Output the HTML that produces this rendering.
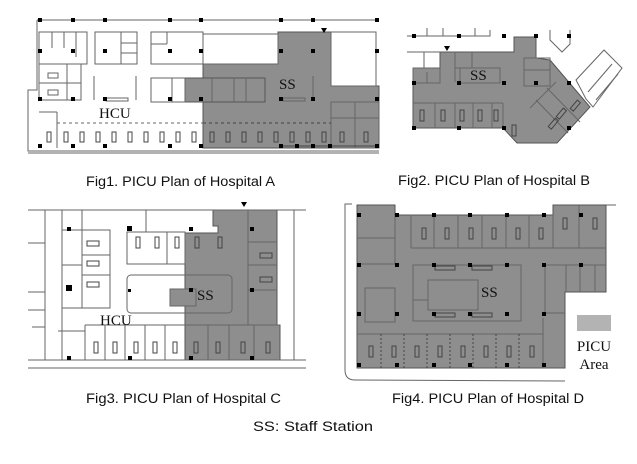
<!DOCTYPE html>
<html><head><meta charset="utf-8"><style>
html,body{margin:0;padding:0;background:#fff;}
svg{display:block}
.cap{font-family:"Liberation Sans",Arial,sans-serif;font-size:13.5px;fill:#111}
.lb{font-family:"Liberation Serif",serif;font-size:15px;fill:#111}
</style></head><body>
<svg width="637" height="464" viewBox="0 0 637 464" xmlns="http://www.w3.org/2000/svg">
<g fill="none" stroke="#666" stroke-width="1">
<!-- FIG1 -->
<polygon points="203,64 278,64 278,32 331,32 331,86 379,86 379,148 203,148" fill="#8e8e8e" stroke="#555"/>
<rect x="331" y="32" width="45" height="54" fill="#fff"/>
<rect x="185" y="78" width="80" height="24" fill="#8e8e8e" stroke="#555"/>
<line x1="37" y1="20" x2="379" y2="20"/>
<polyline points="37,20 37,90 28,90 28,151 379,151"/>
<line x1="28" y1="153" x2="379" y2="153"/>
<rect x="39" y="32" width="48" height="32"/><line x1="52" y1="32" x2="52" y2="48"/><line x1="64" y1="32" x2="64" y2="48"/><line x1="76" y1="32" x2="76" y2="57"/>
<rect x="95" y="32" width="42" height="32"/><line x1="121" y1="32" x2="121" y2="64"/><line x1="121" y1="43" x2="137" y2="43"/><line x1="121" y1="53" x2="137" y2="53"/>
<rect x="151" y="32" width="52" height="32"/><line x1="151" y1="44" x2="167" y2="44"/><line x1="167" y1="32" x2="167" y2="44"/>
<rect x="203" y="34" width="75" height="30" fill="#fff"/>
<rect x="39" y="64" width="42" height="36"/><line x1="39" y1="83" x2="81" y2="83"/><line x1="67" y1="64" x2="67" y2="100"/>
<rect x="48" y="73" width="10" height="5"/><rect x="48" y="90" width="10" height="5"/>
<rect x="151" y="78" width="34" height="24"/><line x1="172" y1="78" x2="172" y2="102"/>
<line x1="212" y1="78" x2="212" y2="102"/><line x1="234" y1="78" x2="234" y2="102"/><line x1="246" y1="78" x2="246" y2="102"/>
<line x1="94" y1="76" x2="94" y2="100"/><line x1="136" y1="76" x2="136" y2="100"/><rect x="106" y="98" width="22" height="3"/>
<line x1="313" y1="76" x2="313" y2="100"/><rect x="283" y="98" width="22" height="3"/>
<rect x="331" y="102" width="48" height="46"/><line x1="331" y1="118" x2="379" y2="118"/><line x1="355" y1="102" x2="355" y2="148"/>
<line x1="39" y1="112" x2="57" y2="112"/><line x1="57" y1="112" x2="57" y2="148"/><line x1="57" y1="123" x2="203" y2="123" stroke-dasharray="3,3"/>
<line x1="203" y1="123" x2="331" y2="123" stroke="#444" stroke-dasharray="3,3"/>
<line x1="279" y1="146" x2="379" y2="146" stroke="#444"/>
</g>
<g fill="none" stroke="#444">
<rect x="47" y="132" width="4" height="10"/><rect x="64" y="132" width="4" height="10"/><rect x="80" y="132" width="4" height="10"/><rect x="96" y="132" width="4" height="10"/><rect x="112" y="132" width="4" height="10"/><rect x="128" y="132" width="4" height="10"/><rect x="144" y="132" width="4" height="10"/><rect x="160" y="132" width="4" height="10"/><rect x="176" y="132" width="4" height="10"/><rect x="192" y="132" width="4" height="10"/>
<rect x="210" y="132" width="4" height="10"/><rect x="226" y="132" width="4" height="10"/><rect x="242" y="132" width="4" height="10"/><rect x="258" y="132" width="4" height="10"/><rect x="274" y="132" width="4" height="10"/><rect x="290" y="132" width="4" height="10"/><rect x="306" y="132" width="4" height="10"/><rect x="322" y="132" width="4" height="10"/><rect x="340" y="132" width="4" height="10"/><rect x="364" y="132" width="4" height="10"/>
</g>
<g fill="#000">
<rect x="38" y="18" width="4" height="4"/><rect x="71" y="18" width="4" height="4"/><rect x="103" y="18" width="4" height="4"/><rect x="168" y="18" width="4" height="4"/><rect x="199" y="18" width="4" height="4"/><rect x="279" y="18" width="4" height="4"/><rect x="311" y="18" width="4" height="4"/><rect x="375" y="18" width="4" height="4"/>
<rect x="38" y="49" width="4" height="4"/><rect x="71" y="49" width="4" height="4"/><rect x="103" y="49" width="4" height="4"/><rect x="168" y="49" width="4" height="4"/><rect x="199" y="49" width="4" height="4"/><rect x="279" y="49" width="4" height="4"/><rect x="311" y="49" width="4" height="4"/><rect x="375" y="49" width="4" height="4"/>
<rect x="38" y="97" width="4" height="4"/><rect x="71" y="97" width="4" height="4"/><rect x="103" y="97" width="4" height="4"/><rect x="168" y="97" width="4" height="4"/><rect x="199" y="97" width="4" height="4"/><rect x="279" y="97" width="4" height="4"/><rect x="311" y="97" width="4" height="4"/><rect x="375" y="97" width="4" height="4"/>
<rect x="38" y="144" width="4" height="4"/><rect x="71" y="144" width="4" height="4"/><rect x="103" y="144" width="4" height="4"/><rect x="168" y="144" width="4" height="4"/><rect x="199" y="144" width="4" height="4"/><rect x="279" y="144" width="4" height="4"/><rect x="295" y="144" width="4" height="4"/><rect x="311" y="144" width="4" height="4"/><rect x="328" y="144" width="4" height="4"/><rect x="375" y="144" width="4" height="4"/>
<polygon points="321,28 327,28 324,33"/>
</g>
<text class="lb" x="279" y="89">SS</text><text class="lb" x="99" y="118">HCU</text>

<!-- FIG2 -->
<g fill="none" stroke="#666">
<polygon points="413,68 440,68 440,52 514,52 514,37 536,37 536,58 550,60 590,107 557,143 517,143 503,128 413,128" fill="#8e8e8e" stroke="#555"/>
<polyline points="407,36 490,36 490,30"/><line x1="427" y1="28" x2="427" y2="36"/><line x1="443" y1="28" x2="443" y2="36"/><line x1="475" y1="28" x2="475" y2="36"/>
<line x1="407" y1="52" x2="440" y2="52"/><line x1="424" y1="52" x2="424" y2="68"/>
<polyline points="550,30 550,40 562,52 570,44 570,30"/>
<polygon points="576,80 604,50 622,68 593,107 586,99" fill="#fff"/>
<line x1="588" y1="92" x2="612" y2="64"/><line x1="596" y1="100" x2="618" y2="74"/>
<line x1="413" y1="103" x2="503" y2="103"/><line x1="435" y1="103" x2="435" y2="128"/><line x1="455" y1="103" x2="455" y2="128"/><line x1="473" y1="103" x2="473" y2="128"/><line x1="492" y1="103" x2="492" y2="128"/><line x1="503" y1="103" x2="503" y2="128"/>
<line x1="455" y1="68" x2="500" y2="68"/><line x1="455" y1="52" x2="455" y2="82"/><line x1="472" y1="52" x2="472" y2="68"/><rect x="460" y="68" width="40" height="15"/>
<rect x="413" y="68" width="27" height="15"/><line x1="427" y1="72" x2="427" y2="83"/>
<rect x="524" y="58" width="26" height="28"/><line x1="524" y1="70" x2="550" y2="70"/>
<line x1="536" y1="100" x2="568" y2="133"/><line x1="547" y1="88" x2="580" y2="122"/><line x1="530" y1="108" x2="556" y2="82"/>
</g>
<g fill="none" stroke="#444">
<rect x="420" y="110" width="4" height="11"/><rect x="441" y="110" width="4" height="11"/><rect x="460" y="110" width="4" height="11"/><rect x="478" y="110" width="4" height="11"/><rect x="494" y="110" width="4" height="11"/><rect x="512" y="125" width="4" height="11"/>
<rect x="556" y="112" width="11" height="4" transform="rotate(-50 561 114)"/><rect x="570" y="104" width="11" height="4" transform="rotate(-50 575 106)"/><rect x="548" y="122" width="11" height="4" transform="rotate(-50 553 124)"/>
</g>
<g fill="#000">
<rect x="412" y="34" width="4" height="4"/><rect x="457" y="34" width="4" height="4"/><rect x="502" y="34" width="4" height="4"/><rect x="534" y="34" width="4" height="4"/><rect x="567" y="34" width="4" height="4"/>
<rect x="412" y="81" width="4" height="4"/><rect x="457" y="81" width="4" height="4"/><rect x="502" y="81" width="4" height="4"/><rect x="534" y="81" width="4" height="4"/><rect x="567" y="81" width="4" height="4"/>
<rect x="412" y="126" width="4" height="4"/><rect x="457" y="126" width="4" height="4"/><rect x="502" y="126" width="4" height="4"/><rect x="567" y="126" width="4" height="4"/>
<polygon points="444,46 450,46 447,51"/>
</g>
<text class="lb" x="470" y="80">SS</text>

<!-- FIG3 -->
<g fill="none" stroke="#666">
<polygon points="213,210 277,210 277,325 280,325 280,360 185,360 185,306 170,306 170,289 185,289 185,233 218,233 218,226 213,226" fill="#8e8e8e" stroke="#555"/>
<line x1="28" y1="210" x2="306" y2="210"/><line x1="28" y1="360" x2="306" y2="360"/><line x1="28" y1="368" x2="306" y2="368"/>
<line x1="45" y1="210" x2="45" y2="360"/><line x1="62" y1="210" x2="62" y2="360"/><line x1="294" y1="210" x2="294" y2="360"/>
<line x1="28" y1="243" x2="45" y2="243"/><line x1="28" y1="292" x2="45" y2="292"/><line x1="28" y1="310" x2="45" y2="310"/><line x1="32" y1="327" x2="45" y2="327"/>
<line x1="62" y1="230" x2="82" y2="230"/><line x1="82" y1="210" x2="82" y2="230"/><line x1="62" y1="265" x2="82" y2="265"/><line x1="62" y1="308" x2="110" y2="308"/>
<rect x="82" y="230" width="28" height="78"/><line x1="82" y1="255" x2="110" y2="255"/><line x1="82" y1="275" x2="110" y2="275"/>
<rect x="127" y="232" width="58" height="32"/><line x1="146" y1="232" x2="146" y2="210"/><line x1="167" y1="232" x2="167" y2="264"/>
<rect x="127" y="275" width="105" height="38" rx="4"/>
<line x1="248" y1="210" x2="248" y2="325"/><line x1="248" y1="242" x2="277" y2="242"/><line x1="248" y1="265" x2="277" y2="265"/><line x1="248" y1="290" x2="277" y2="290"/>
<line x1="85" y1="325" x2="185" y2="325"/><line x1="58" y1="331" x2="85" y2="331"/><line x1="85" y1="325" x2="85" y2="360"/>
<line x1="105" y1="325" x2="105" y2="360"/><line x1="125" y1="325" x2="125" y2="360"/><line x1="145" y1="325" x2="145" y2="360"/><line x1="165" y1="325" x2="165" y2="360"/>
<line x1="185" y1="325" x2="280" y2="325"/><line x1="208" y1="325" x2="208" y2="360"/><line x1="229" y1="325" x2="229" y2="360"/><line x1="254" y1="325" x2="254" y2="360"/>
<rect x="170" y="289" width="26" height="17"/>
</g>
<g fill="none" stroke="#444">
<rect x="87" y="241" width="12" height="5"/><rect x="87" y="261" width="12" height="5"/><rect x="87" y="282" width="12" height="5"/>
<rect x="136" y="237" width="4" height="11"/><rect x="155" y="237" width="4" height="11"/><rect x="175" y="237" width="4" height="11"/><rect x="195" y="237" width="4" height="11"/><rect x="218" y="237" width="4" height="11"/>
<rect x="260" y="253" width="12" height="5"/><rect x="260" y="277" width="12" height="5"/>
<rect x="94" y="342" width="4" height="11"/><rect x="113" y="342" width="4" height="11"/><rect x="134" y="342" width="4" height="11"/><rect x="153" y="342" width="4" height="11"/><rect x="173" y="342" width="4" height="11"/><rect x="194" y="342" width="4" height="11"/><rect x="216" y="342" width="4" height="11"/><rect x="241" y="342" width="4" height="11"/><rect x="266" y="342" width="4" height="11"/>
</g>
<g fill="#000">
<rect x="67" y="227" width="4" height="4"/><rect x="127" y="226" width="5" height="5"/><rect x="189" y="227" width="4" height="4"/><rect x="250" y="227" width="4" height="4"/>
<rect x="66" y="285" width="6" height="6"/><rect x="128" y="289" width="3" height="3"/><rect x="189" y="288" width="4" height="4"/><rect x="250" y="288" width="4" height="4"/>
<rect x="67" y="356" width="4" height="4"/><rect x="128" y="356" width="4" height="4"/><rect x="189" y="356" width="4" height="4"/><rect x="250" y="356" width="4" height="4"/>
<polygon points="241,202 247,202 244,207"/>
</g>
<text class="lb" x="197" y="300">SS</text><text class="lb" x="100" y="325">HCU</text>

<!-- FIG4 -->
<g fill="none" stroke="#666">
<path d="M352,204 L345,204 L345,370 Q345,380 355,380 L565,381"/>
<line x1="606" y1="205" x2="616" y2="205"/><line x1="565" y1="292" x2="606" y2="292"/>
<polygon points="357,205 395,205 395,215 553,215 553,205 606,205 606,292 565,292 565,368 357,368" fill="#8e8e8e" stroke="#555"/>
<line x1="357" y1="238" x2="395" y2="238"/><line x1="395" y1="215" x2="395" y2="264"/><line x1="357" y1="264" x2="395" y2="264"/>
<line x1="411" y1="215" x2="411" y2="248"/><line x1="411" y1="248" x2="606" y2="248"/><line x1="434" y1="215" x2="434" y2="248"/><line x1="458" y1="215" x2="458" y2="248"/><line x1="482" y1="215" x2="482" y2="248"/><line x1="506" y1="215" x2="506" y2="248"/><line x1="529" y1="215" x2="529" y2="248"/><line x1="553" y1="215" x2="553" y2="248"/><line x1="579" y1="205" x2="579" y2="248"/>
<rect x="413" y="265" width="108" height="56"/><rect x="428" y="280" width="50" height="30"/><line x1="413" y1="300" x2="428" y2="300"/>
<rect x="365" y="288" width="30" height="34"/>
<line x1="357" y1="334" x2="543" y2="334"/><line x1="543" y1="318" x2="543" y2="368"/>
<line x1="545" y1="265" x2="545" y2="313"/><line x1="545" y1="313" x2="565" y2="313"/><line x1="566" y1="265" x2="566" y2="292"/><line x1="580" y1="265" x2="580" y2="292"/><line x1="595" y1="265" x2="595" y2="292"/><line x1="545" y1="265" x2="606" y2="265"/>
</g>
<g fill="none" stroke="#444" stroke-dasharray="2,2"><line x1="381" y1="334" x2="381" y2="368"/><line x1="404" y1="334" x2="404" y2="368"/><line x1="427" y1="334" x2="427" y2="368"/><line x1="450" y1="334" x2="450" y2="368"/><line x1="473" y1="334" x2="473" y2="368"/><line x1="496" y1="334" x2="496" y2="368"/><line x1="519" y1="334" x2="519" y2="368"/></g>
<g fill="none" stroke="#444">
<rect x="422" y="228" width="4" height="11"/><rect x="445" y="228" width="4" height="11"/><rect x="469" y="228" width="4" height="11"/><rect x="492" y="228" width="4" height="11"/><rect x="516" y="228" width="4" height="11"/><rect x="539" y="228" width="4" height="11"/><rect x="563" y="218" width="4" height="11"/><rect x="593" y="218" width="4" height="11"/>
<rect x="369" y="346" width="4" height="11"/><rect x="392" y="346" width="4" height="11"/><rect x="415" y="346" width="4" height="11"/><rect x="438" y="346" width="4" height="11"/><rect x="461" y="346" width="4" height="11"/><rect x="484" y="346" width="4" height="11"/><rect x="507" y="346" width="4" height="11"/><rect x="530" y="346" width="4" height="11"/>
<rect x="435" y="266" width="20" height="4"/><rect x="472" y="266" width="20" height="4"/><rect x="435" y="313" width="20" height="4"/><rect x="472" y="313" width="20" height="4"/>
</g>
<g fill="#000">
<rect x="357" y="213" width="4" height="4"/><rect x="395" y="213" width="4" height="4"/><rect x="432" y="213" width="4" height="4"/><rect x="468" y="213" width="4" height="4"/><rect x="505" y="213" width="4" height="4"/><rect x="542" y="213" width="4" height="4"/><rect x="579" y="213" width="4" height="4"/>
<rect x="357" y="263" width="4" height="4"/><rect x="395" y="263" width="4" height="4"/><rect x="432" y="263" width="4" height="4"/><rect x="468" y="263" width="4" height="4"/><rect x="505" y="263" width="4" height="4"/><rect x="542" y="263" width="4" height="4"/><rect x="579" y="263" width="4" height="4"/>
<rect x="357" y="312" width="4" height="4"/><rect x="395" y="312" width="4" height="4"/><rect x="432" y="312" width="4" height="4"/><rect x="468" y="312" width="4" height="4"/><rect x="505" y="312" width="4" height="4"/><rect x="542" y="312" width="4" height="4"/>
<rect x="357" y="363" width="4" height="4"/><rect x="395" y="363" width="4" height="4"/><rect x="432" y="363" width="4" height="4"/><rect x="468" y="363" width="4" height="4"/><rect x="505" y="363" width="4" height="4"/><rect x="542" y="363" width="4" height="4"/>
</g>
<text class="lb" x="481" y="297">SS</text>
<rect x="577" y="315" width="34" height="16" fill="#b3b3b3"/>
<text class="lb" x="594" y="351" text-anchor="middle">PICU</text>
<text class="lb" x="594" y="369" text-anchor="middle">Area</text>

<text class="cap" x="86" y="186" textLength="189" lengthAdjust="spacingAndGlyphs">Fig1. PICU Plan of Hospital A</text>
<text class="cap" x="398" y="185" textLength="192" lengthAdjust="spacingAndGlyphs">Fig2. PICU Plan of Hospital B</text>
<text class="cap" x="86" y="403" textLength="195" lengthAdjust="spacingAndGlyphs">Fig3. PICU Plan of Hospital C</text>
<text class="cap" x="392" y="403" textLength="192" lengthAdjust="spacingAndGlyphs">Fig4. PICU Plan of Hospital D</text>
<text class="cap" x="253" y="431" textLength="120" lengthAdjust="spacingAndGlyphs">SS: Staff Station</text>
</svg>
</body></html>
